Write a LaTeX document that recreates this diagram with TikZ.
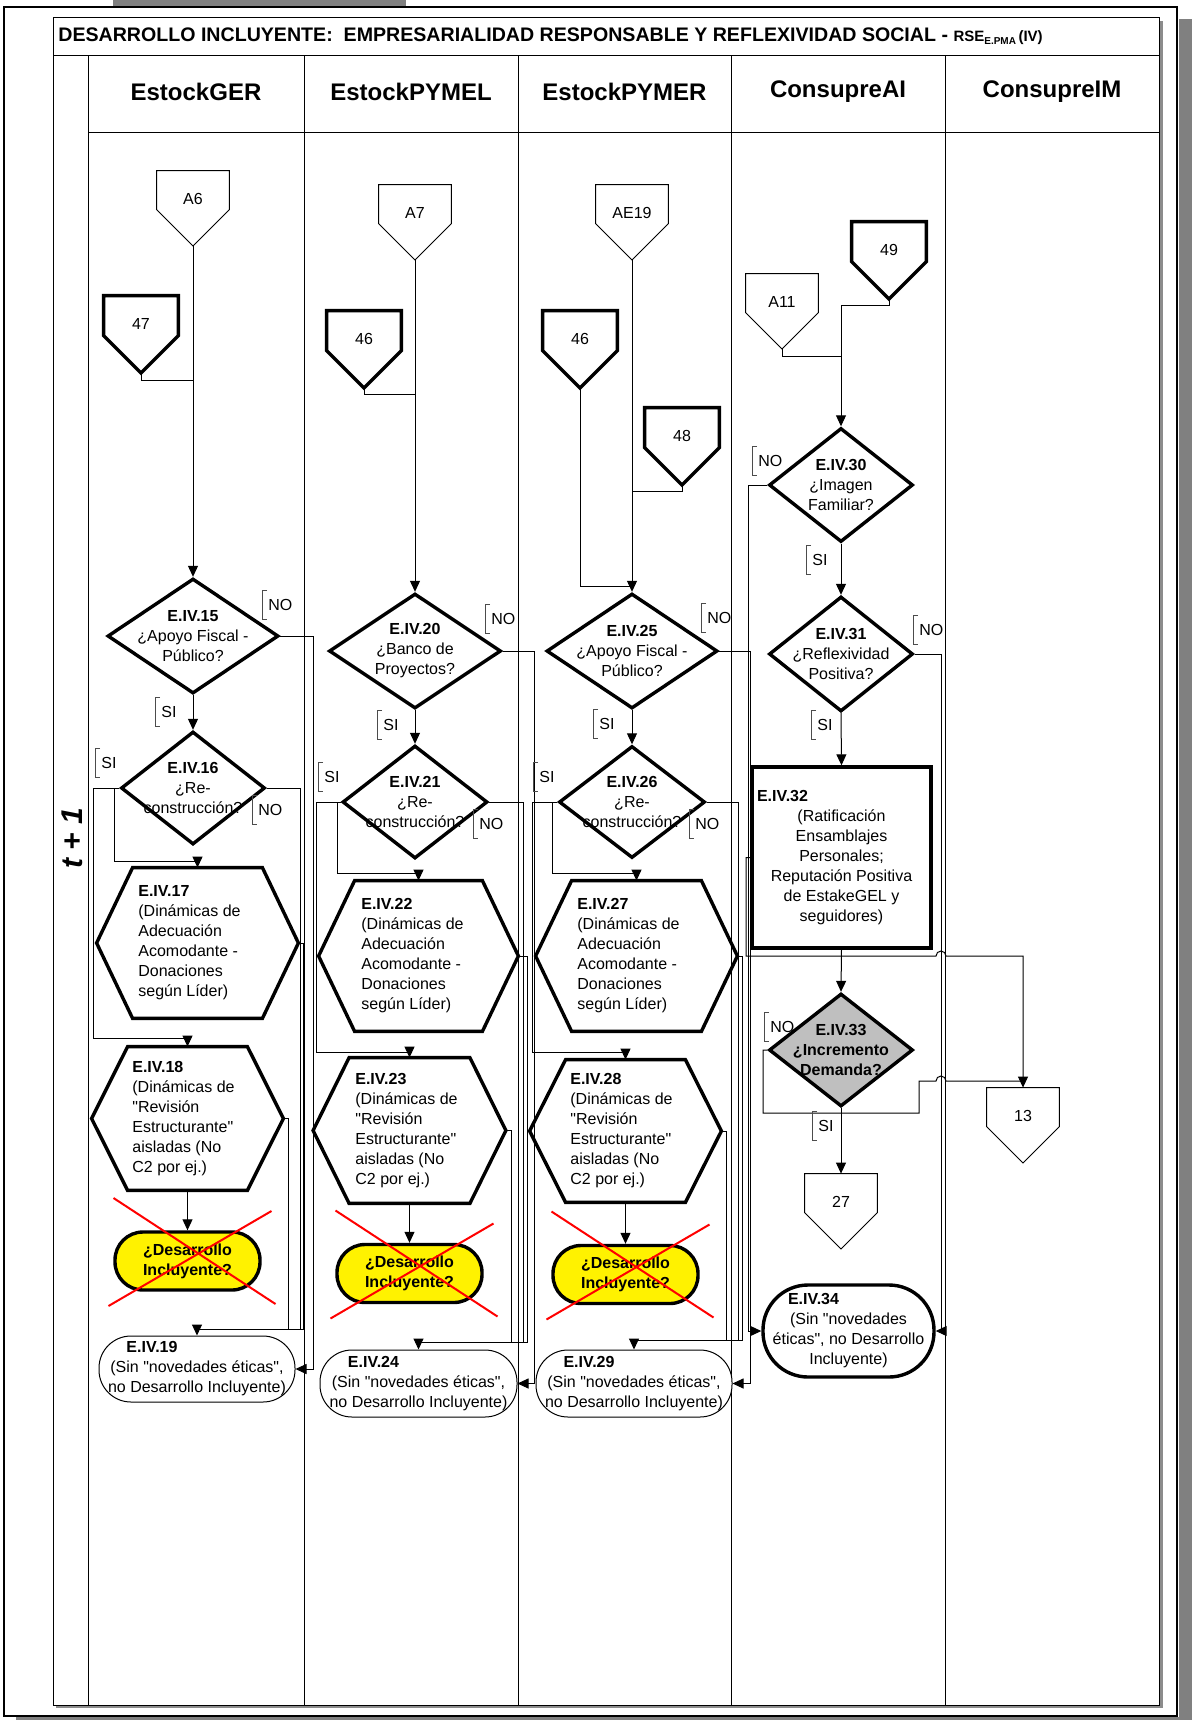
\documentclass[tikz,border=0pt]{standalone}
\usepackage{fontspec}
\setmainfont{Liberation Sans}[Ligatures=TeXOff]
\usetikzlibrary{shapes.geometric,arrows.meta}

\newcommand{\offp}[4]{%
  \node[cbox] (#1) at (#2,#3+28) {#4};
  \coordinate (#1t) at (#2,#3+75);
  \draw[ln] (#1.north west) -- (#1.north east) -- ([shift={(0,39)}]#1.north east) -- (#1t) -- ([shift={(0,39)}]#1.north west) -- cycle;}
\newcommand{\offpk}[4]{%
  \node[cboxk] (#1) at (#2,#3+28) {#4};
  \coordinate (#1t) at (#2,#3+77);
  \draw[thk] (#1.north west) -- (#1.north east) -- ([shift={(0,40)}]#1.north east) -- (#1t) -- ([shift={(0,40)}]#1.north west) -- cycle;}
\newcommand{\hexn}[7]{%
  \node[hexbb, minimum width={#4*0.5pt}, minimum height={#5*0.5pt},
    label={[name=#1l, txt, align=left, xshift=#6]center:{#7}}] (#1) at (#2,#3) {};
  \draw[thk] (#1.west) -- ([shift={(36,0)}]#1.north west) -- ([shift={(-36,0)}]#1.north east) -- (#1.east) -- ([shift={(-36,0)}]#1.south east) -- ([shift={(36,0)}]#1.south west) -- cycle;}
\newcommand{\brl}[4]{%
  \node[lbl] (#1) at (#2,#3) {#4};
  \draw[brk] ([shift={(5,0)}]#1.north west) -- (#1.north west) -- (#1.south west) -- ([shift={(5,0)}]#1.south west);}

\begin{document}
\begin{tikzpicture}[x=0.5pt,y=-0.5pt,
  txt/.style={font=\fontsize{8}{10}\selectfont, inner sep=0pt},
  ln/.style={line width=0.5pt},
  thk/.style={line width=1.7pt},
  arr/.style={line width=0.5pt,-{Triangle[length=5.5pt,width=5pt]}},
  cbox/.style={draw=none, minimum width=36pt, minimum height=28pt, txt},
  cboxk/.style={cbox, minimum width=37pt},
  hexbb/.style={draw=none, inner sep=0pt},
  dia/.style={diamond, draw, thk, inner sep=0pt, fill=white},
  term/.style={draw, ln, txt, align=center, fill=white},
  yel/.style={draw, thk, fill=yellow, inner sep=0pt, font=\fontsize{8}{10}\selectfont\bfseries, align=center, minimum width=72.5pt, minimum height=29pt, rounded corners=14pt},
  lbl/.style={txt, inner xsep=3pt, inner ysep=0pt, minimum height=14pt, anchor=west},
  brk/.style={line width=0.5pt, black!70},
  xx/.style={red, line width=1pt},
  lane/.style={line width=0.5pt},
  hdr/.style={font=\fontsize{12}{14}\selectfont\bfseries},
]
\useasboundingbox (0,0) rectangle (1192,1720);
% page frame
\fill[black!50] (1179,19) rectangle (1192,1720);
\fill[black!50] (16,1717) rectangle (1192,1720);
\fill[black!50] (113,0) rectangle (406,7);
\draw[line width=1pt] (4,7) rectangle (1177,1716);
% table
\fill[black!45] (56,1705) rectangle (1163,1708);
\fill[black!45] (1159,21) rectangle (1163,1708);
\draw[lane] (53,17.5) rectangle (1159,1705);
\draw[lane] (53,55) -- (1159,55);
\draw[lane] (88,132) -- (1159,132);
\foreach \x in {88,304,518,731,945} \draw[lane] (\x,55) -- (\x,1705);

\node[anchor=west, inner sep=0pt, font=\fontsize{9.8}{11}\selectfont\bfseries] (title) at (58,36)
 {DESARROLLO INCLUYENTE:\ \ EMPRESARIALIDAD RESPONSABLE Y REFLEXIVIDAD SOCIAL - {\fontsize{7.5}{8}\selectfont RSE\raisebox{-1.8pt}{\fontsize{5}{6}\selectfont E.PMA}\,(IV)}};
\node[hdr] (hA) at (196,92) {EstockGER};
\node[hdr] (hB) at (411,92) {EstockPYMEL};
\node[hdr] (hC) at (624.5,92) {EstockPYMER};
\node[hdr] (hD) at (838,92) {ConsupreAI};
\node[hdr] (hE) at (1052,92) {ConsupreIM};
\node[rotate=90, font=\fontsize{15}{18}\selectfont\bfseries\itshape] (tt) at (72,838) {t + 1};

% ---------- lane 1
\offp{a6}{193}{171}{A6}
\offpk{c47}{141}{296}{47}
\node[dia, minimum width=85.5pt, minimum height=57.5pt, label={[name=d15l,txt,align=center]center:{\textbf{E.IV.15}\\¿Apoyo Fiscal -\\Público?}}] (d15) at (193,636) {};
\node[dia, minimum width=72pt, minimum height=56.5pt, label={[name=d16l,txt,align=center]center:{\textbf{E.IV.16}\\¿Re-\\construcción?}}] (d16) at (193,788) {};
\hexn{h17}{197.5}{943}{201}{150}{-4pt}{\textbf{E.IV.17}\\(Dinámicas de\\Adecuación\\Acomodante -\\Donaciones\\según Líder)}
\hexn{h18}{187.5}{1118.5}{191}{143}{-2pt}{\textbf{E.IV.18}\\(Dinámicas de\\"Revisión\\Estructurante"\\aisladas (No\\C2 por ej.)}
\node[yel] (t1) at (187.5,1261) {¿Desarrollo\\Incluyente?};
\node[term, minimum width=98pt, minimum height=33pt, rounded corners=16pt] (e19) at (197,1369) {\hspace*{-45pt}\textbf{E.IV.19}\\(Sin "novedades éticas",\\no Desarrollo Incluyente)};

\draw[arr] (a6t) -- (d15.north);
\coordinate (j47) at (193,380);
\draw[ln] (c47t) |- (j47);
\draw[arr] (d15.south) -- (d16.north);
\draw[arr] (d16.west) -| (114,861) -| (h17.north);
\draw[arr] (d16.west) -| (93,1038) -| (h18.north);
\draw[arr] (h18.south) -- (t1.north);
\draw[arr] (d15.east) -| (313,1369) -- (e19.east);
\draw[arr] (d16.east) -| (300,1329) -| (e19.north);
\draw[ln] (h17.east) -| (303,1329) -- (300,1329);
\draw[ln] (h18.east) -| (288,1329);
\draw[xx] ([shift={(-74,-63)}]t1.center) -- ([shift={(88,43)}]t1.center);
\draw[xx] ([shift={(-79,45)}]t1.center) -- ([shift={(84,-50)}]t1.center);

% ---------- lane 2
\offp{a7}{415}{185}{A7}
\offpk{c46a}{364}{311}{46}
\node[dia, minimum width=86pt, minimum height=57.5pt, label={[name=d20l,txt,align=center]center:{\textbf{E.IV.20}\\¿Banco de\\Proyectos?}}] (d20) at (415,651) {};
\node[dia, minimum width=72.5pt, minimum height=56.5pt, label={[name=d21l,txt,align=center]center:{\textbf{E.IV.21}\\¿Re-\\construcción?}}] (d21) at (415,802) {};
\hexn{h22}{418.5}{956}{199}{150}{-3pt}{\textbf{E.IV.22}\\(Dinámicas de\\Adecuación\\Acomodante -\\Donaciones\\según Líder)}
\hexn{h23}{409.5}{1130.5}{192}{145}{-1.5pt}{\textbf{E.IV.23}\\(Dinámicas de\\"Revisión\\Estructurante"\\aisladas (No\\C2 por ej.)}
\node[yel] (t2) at (409.5,1273.5) {¿Desarrollo\\Incluyente?};
\node[term, minimum width=98.5pt, minimum height=33.5pt, rounded corners=16pt] (e24) at (418.5,1383.5) {\hspace*{-45pt}\textbf{E.IV.24}\\(Sin "novedades éticas",\\no Desarrollo Incluyente)};

\draw[arr] (a7t) -- (d20.north);
\coordinate (j46a) at (415,394);
\draw[ln] (c46at) |- (j46a);
\draw[arr] (d20.south) -- (d21.north);
\draw[arr] (d21.west) -| (337,873) -| (h22.north);
\draw[arr] (d21.west) -| (316,1052) -| (h23.north);
\draw[arr] (h23.south) -- (t2.north);
\draw[arr] (d20.east) -| (534,1383.5) -- (e24.east);
\draw[arr] (d21.east) -| (523,1342) -| (e24.north);
\draw[ln] (h22.east) -| (527,1342) -- (523,1342);
\draw[ln] (h23.east) -| (511,1342);
\draw[xx] ([shift={(-74,-63)}]t2.center) -- ([shift={(88,43)}]t2.center);
\draw[xx] ([shift={(-79,45)}]t2.center) -- ([shift={(84,-50)}]t2.center);

% ---------- lane 3
\offp{ae19}{632}{185}{AE19}
\offpk{c46b}{580}{311}{46}
\offpk{c48}{682}{408}{48}
\node[dia, minimum width=85.5pt, minimum height=57.5pt, label={[name=d25l,txt,align=center]center:{\textbf{E.IV.25}\\¿Apoyo Fiscal -\\Público?}}] (d25) at (632,651) {};
\node[dia, minimum width=73pt, minimum height=56pt, label={[name=d26l,txt,align=center]center:{\textbf{E.IV.26}\\¿Re-\\construcción?}}] (d26) at (632,802) {};
\hexn{h27}{636.5}{956}{201}{150}{-4pt}{\textbf{E.IV.27}\\(Dinámicas de\\Adecuación\\Acomodante -\\Donaciones\\según Líder)}
\hexn{h28}{625.5}{1131}{191}{142}{-2pt}{\textbf{E.IV.28}\\(Dinámicas de\\"Revisión\\Estructurante"\\aisladas (No\\C2 por ej.)}
\node[yel] (t3) at (625.5,1274.5) {¿Desarrollo\\Incluyente?};
\node[term, minimum width=98pt, minimum height=33.5pt, rounded corners=16pt] (e29) at (634,1383.5) {\hspace*{-45pt}\textbf{E.IV.29}\\(Sin "novedades éticas",\\no Desarrollo Incluyente)};

\draw[arr] (ae19t) -- (d25.north);
\coordinate (j46b) at (632,586);
\draw[ln] (c46bt) |- (j46b);
\coordinate (j48) at (632,491);
\draw[ln] (c48t) |- (j48);
\draw[arr] (d25.south) -- (d26.north);
\draw[arr] (d26.west) -| (552,873) -| (h27.north);
\draw[arr] (d26.west) -| (532,1052) -| (h28.north);
\draw[arr] (h28.south) -- (t3.north);
\draw[arr] (d25.east) -| (750,1383.5) -- (e29.east);
\draw[arr] (d26.east) -| (738,1340) -| (e29.north);
\draw[ln] (h27.east) -| (742,1340) -- (738,1340);
\draw[ln] (h28.east) -| (726,1340);
\draw[xx] ([shift={(-74,-63)}]t3.center) -- ([shift={(88,43)}]t3.center);
\draw[xx] ([shift={(-79,45)}]t3.center) -- ([shift={(84,-50)}]t3.center);

% ---------- lane 4
\offp{a11}{782}{274}{A11}
\offpk{c49}{889}{222}{49}
\node[dia, minimum width=72pt, minimum height=57pt, label={[name=d30l,txt,align=center]center:{\textbf{E.IV.30}\\¿Imagen\\Familiar?}}] (d30) at (841,485) {};
\node[dia, minimum width=72pt, minimum height=57.5pt, label={[name=d31l,txt,align=center]center:{\textbf{E.IV.31}\\¿Reflexividad\\Positiva?}}] (d31) at (841,654) {};
\node[draw, thk, fill=white, txt, align=center, minimum width=89.5pt, minimum height=90.5pt] (b32) at (841.5,857.5)
 {\hspace*{-59pt}\textbf{E.IV.32}\\(Ratificación\\Ensamblajes\\Personales;\\Reputación Positiva\\de EstakeGEL y\\seguidores)};
\node[dia, fill=black!25, minimum width=72pt, minimum height=56.5pt, label={[name=d33l,txt,align=center,font=\fontsize{8}{10}\selectfont\bfseries]center:{E.IV.33\\¿Incremento\\Demanda?}}] (d33) at (841,1050) {};
\offp{c27}{841}{1174}{27}
\node[term, thk, minimum width=85.5pt, minimum height=46pt, rounded corners=22.5pt] (e34) at (848.5,1331)
 {\hspace*{-35pt}\textbf{E.IV.34}\\(Sin "novedades\\éticas", no Desarrollo\\Incluyente)};
% ---------- lane 5
\offp{c13}{1023}{1088}{13}

\coordinate (j49) at (841,305);
\draw[arr] (c49t) |- (j49) -- (d30.north);
\coordinate (j11) at (841,356);
\draw[ln] (a11t) |- (j11);
\draw[arr] (d30.south) -- (d31.north);
\draw[arr] (d31.south) -- (b32.north);
\draw[arr] (b32.south) -- (d33.north);
\draw[arr] (d33.south) -- (c27.north);
\draw[arr] (d30.west) -| (748,1331) -- (e34.west);
\draw[arr] (d31.east) -| (941,1331) -- (e34.east);
\draw[arr] (b32.west) -| (746,956) -- (936,956) arc[start angle=180,end angle=360,radius=5] -- (1023,956) -- (c13.north);
\coordinate (j13) at (1023,1081);
\draw[ln] (d33.west) -| (763,1113) -| (919,1081) -- (936,1081) arc[start angle=180,end angle=360,radius=5] -- (j13);

% ---------- SI / NO labels
\brl{n15}{262}{605}{NO}
\brl{s15}{155}{712}{SI}
\brl{s16}{95}{763}{SI}
\brl{n16}{252}{810}{NO}
\brl{n20}{485}{619}{NO}
\brl{s20}{377}{725}{SI}
\brl{s21}{318}{777}{SI}
\brl{n21}{473}{824}{NO}
\brl{n25}{701}{618}{NO}
\brl{s25}{593}{724}{SI}
\brl{s26}{533}{777}{SI}
\brl{n26}{689}{824}{NO}
\brl{n30}{752}{461}{NO}
\brl{s30}{806}{560}{SI}
\brl{n31}{913}{630}{NO}
\brl{s31}{811}{725}{SI}
\brl{n33}{764}{1027}{NO}
\brl{s33}{812}{1126}{SI}
\end{tikzpicture}
\end{document}
